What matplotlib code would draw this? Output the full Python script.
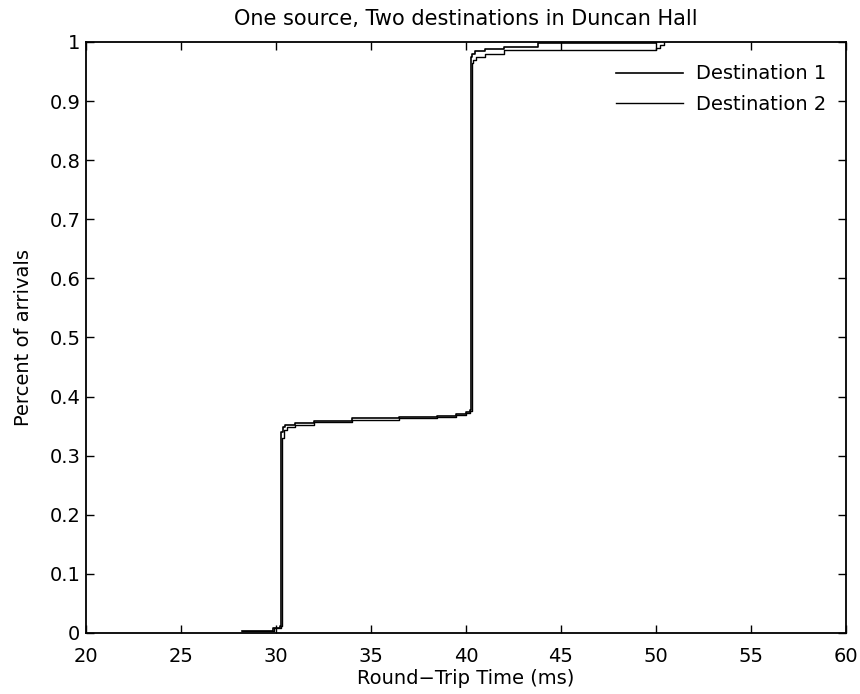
import matplotlib
matplotlib.use("Agg")
import matplotlib.pyplot as plt

plt.rcParams['font.family'] = ['DejaVu Sans']

title = "One source, Two destinations in Duncan Hall"
xlabel = "Round\u2212Trip Time (ms)"
ylabel = "Percent of arrivals"
labels = ["Destination 1", "Destination 2"]

dest1_x = [28.2, 29.85, 30.2, 30.25, 30.35, 30.5, 31.0, 32.0, 34.0, 36.5, 38.5, 39.5, 40.0, 40.2, 40.25, 40.3, 40.5, 41.0, 42.0, 43.8, 50.0]
dest1_y = [0.004, 0.008, 0.012, 0.34, 0.348, 0.352, 0.355, 0.359, 0.363, 0.366, 0.368, 0.371, 0.374, 0.378, 0.975, 0.980, 0.985, 0.988, 0.992, 0.998, 1.0]

dest2_x = [28.2, 29.9, 30.25, 30.3, 30.4, 30.6, 31.0, 32.0, 34.0, 36.5, 38.5, 39.5, 40.0, 40.2, 40.3, 40.35, 40.55, 41.0, 42.0, 50.0, 50.2, 50.4]
dest2_y = [0.004, 0.008, 0.012, 0.33, 0.343, 0.348, 0.352, 0.357, 0.361, 0.364, 0.366, 0.369, 0.372, 0.376, 0.965, 0.970, 0.975, 0.980, 0.9865, 0.990, 0.995, 1.0]

xticks = [20, 25, 30, 35, 40, 45, 50, 55, 60]
yticks = [0, 0.1, 0.2, 0.3, 0.4, 0.5, 0.6, 0.7, 0.8, 0.9, 1]
yticklabels = ["0", "0.1", "0.2", "0.3", "0.4", "0.5", "0.6", "0.7", "0.8", "0.9", "1"]

fig = plt.figure(figsize=(8.6, 6.94), dpi=100)
ax = fig.add_axes([0.1, 0.0879, 0.8837, 0.8516])
ax.step(dest1_x, dest1_y, where='post', color='black', lw=1.2, label=labels[0])
ax.step(dest2_x, dest2_y, where='post', color='black', lw=1.0, label=labels[1])

ax.set_xlim(20, 60)
ax.set_ylim(0, 1)
ax.set_xticks(xticks)
ax.set_xticklabels([str(t) for t in xticks])
ax.set_yticks(yticks)
ax.set_yticklabels(yticklabels)
ax.tick_params(direction='in', top=True, right=True, labelsize=14, length=6, width=1)
ax.tick_params(axis='x', pad=10)
ax.tick_params(axis='y', pad=4)
for s in ax.spines.values():
    s.set_linewidth(1.3)

ax.set_title(title, fontsize=15, pad=12)
ax.set_xlabel(xlabel, fontsize=14, labelpad=2)
ax.set_ylabel(ylabel, fontsize=14, labelpad=12)

ax.legend(loc='upper right', bbox_to_anchor=(0.982, 0.972), frameon=False, fontsize=14,
          handlelength=3.4, borderaxespad=0.0, labelspacing=0.6, handletextpad=0.7,
          borderpad=0.3)

fig.savefig("out.png", dpi=100)
